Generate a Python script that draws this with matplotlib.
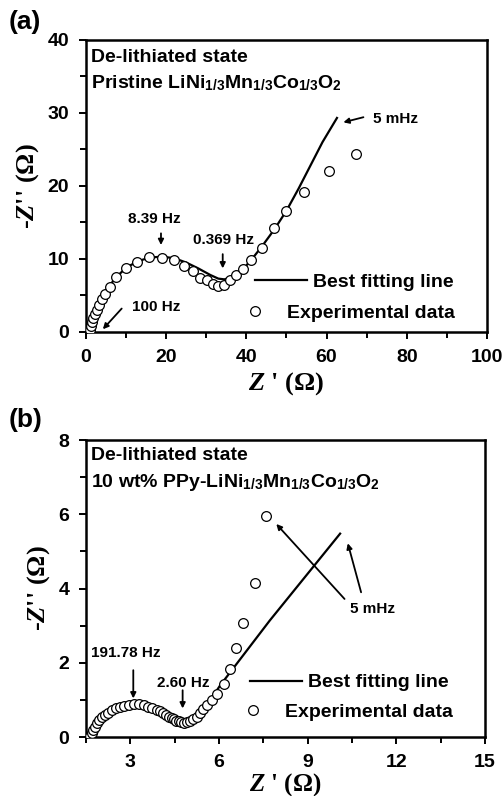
import numpy as np
import matplotlib
matplotlib.use("Agg")
import matplotlib.pyplot as plt

# ---- panel (a): pristine ----
a_exp_x = [1.0, 1.2, 1.45, 1.8, 2.2, 2.65, 3.2, 3.9, 4.8, 6.0, 7.6, 9.9, 12.8, 15.8,
           18.9, 21.9, 24.4, 26.8, 28.5, 30.2, 31.6, 33.0, 34.5, 35.9, 37.4, 39.1,
           41.1, 43.9, 47.0, 49.9, 54.4, 60.5, 67.3]
a_exp_y = [0.3, 0.8, 1.3, 1.85, 2.4, 3.0, 3.75, 4.5, 5.2, 6.2, 7.5, 8.7, 9.6, 10.25,
           10.1, 9.85, 9.0, 8.3, 7.45, 7.1, 6.6, 6.3, 6.45, 7.1, 7.8, 8.65,
           9.8, 11.45, 14.2, 16.6, 19.2, 22.1, 24.3]
a_fit_x = [1.0, 1.5, 2.2, 3.2, 4.8, 7.0, 10.0, 13.0, 16.0, 19.0, 22.0, 25.0, 28.0,
           31.0, 33.0, 34.5, 36.0, 38.0, 40.0, 42.0, 44.0, 46.0, 48.0, 50.0, 53.0,
           56.0, 59.0, 62.6]
a_fit_y = [0.0, 1.0, 2.3, 3.7, 5.3, 7.2, 8.8, 9.7, 10.2, 10.3, 10.1, 9.5, 8.7,
           7.8, 7.3, 7.2, 7.4, 8.1, 9.1, 10.4, 11.8, 13.3, 14.9, 16.6, 19.6,
           22.8, 26.0, 29.3]

# ---- panel (b): 10 wt% PPy coated ----
b_exp_x = [1.64, 1.69, 1.75, 1.80, 1.88, 1.95, 2.04, 2.14, 2.25, 2.37, 2.50, 2.65,
           2.79, 2.95, 3.12, 3.29, 3.46, 3.61, 3.75, 3.89, 4.00, 4.11, 4.22, 4.31,
           4.40, 4.48, 4.56, 4.64, 4.73, 4.82, 4.91, 5.01, 5.13, 5.24, 5.35, 5.46,
           5.60, 5.75, 5.92, 6.17, 6.39, 6.57, 6.80, 7.23, 7.60]
b_exp_y = [0.04, 0.10, 0.19, 0.28, 0.37, 0.46, 0.53, 0.60, 0.66, 0.72, 0.77, 0.81,
           0.84, 0.86, 0.88, 0.88, 0.85, 0.82, 0.78, 0.73, 0.69, 0.64, 0.59, 0.55,
           0.51, 0.48, 0.44, 0.42, 0.40, 0.39, 0.40, 0.43, 0.48, 0.55, 0.64, 0.75,
           0.86, 0.99, 1.16, 1.44, 1.84, 2.41, 3.07, 4.15, 5.96]
b_fit_x = [1.60, 1.70, 1.90, 2.20, 2.60, 3.00, 3.40, 3.80, 4.20, 4.50, 4.80, 5.00,
           5.20, 5.40, 5.60, 5.80, 6.03, 7.72, 10.1]
b_fit_y = [0.0, 0.15, 0.38, 0.62, 0.80, 0.87, 0.86, 0.77, 0.62, 0.50, 0.42, 0.42,
           0.52, 0.68, 0.88, 1.10, 1.38, 3.14, 5.48]

SANS = "Liberation Sans"
SERIF = "Liberation Serif"

plt.rcParams["font.family"] = [SANS, "DejaVu Sans"]
plt.rcParams["font.weight"] = "bold"
plt.rcParams["mathtext.fontset"] = "custom"
plt.rcParams["mathtext.it"] = "Liberation Serif:italic:bold"
plt.rcParams["mathtext.rm"] = "Liberation Serif:bold"
plt.rcParams["mathtext.sf"] = "Liberation Sans:bold"

FORMULA = r"LiNi$_{\mathsf{1/3}}$Mn$_{\mathsf{1/3}}$Co$_{\mathsf{1/3}}$O$_{\mathsf{2}}$"


def style_axes(ax, xlim, ylim, xmaj, xmin, ymaj, ymin, xpad, xsize):
    ax.set_xticks(np.arange(0, xlim[1] + 1e-9, xmaj))
    ax.set_xticks(np.arange(0, xlim[1] + 1e-9, xmin), minor=True)
    ax.set_yticks(np.arange(0, ylim[1] + 1e-9, ymaj))
    ax.set_yticks(np.arange(0, ylim[1] + 1e-9, ymin), minor=True)
    ax.set_xlim(*xlim)
    ax.set_ylim(*ylim)
    for s in ax.spines.values():
        s.set_linewidth(1.8)
    ax.tick_params(which="major", direction="out", length=5, width=1.4, pad=7,
                   labelsize=14, top=False, right=False)
    ax.tick_params(which="minor", direction="out", length=4, width=1.4,
                   top=False, right=False)
    for lab in ax.get_xticklabels() + ax.get_yticklabels():
        lab.set_fontweight("bold")
    ax.set_xlabel(r"$\mathit{Z}$ ' (Ω)", family=SERIF, fontsize=xsize,
                  fontweight="bold", labelpad=xpad)
    ax.set_ylabel(r"-$\mathit{Z}$'' (Ω)", family=SERIF, fontsize=19,
                  fontweight="bold", labelpad=5)


def add_legend(ax, fit_line, exp_pts, line_xy, mark_xy):
    leg1 = ax.legend([fit_line], ["Best fitting line"], loc="center left",
                     bbox_to_anchor=line_xy, frameon=False, borderpad=0,
                     borderaxespad=0, handlelength=2.7, handletextpad=0.3,
                     prop={"family": SANS, "weight": "bold", "size": 14})
    ax.add_artist(leg1)
    ax.legend([exp_pts], ["Experimental data"], loc="center left",
              bbox_to_anchor=mark_xy, frameon=False, borderpad=0,
              borderaxespad=0, handlelength=0.5, handletextpad=1.4,
              prop={"family": SANS, "weight": "bold", "size": 14})


def arrow(ax, text, xy, xytext, tx=None):
    ax.annotate("", xy=xy, xytext=xytext,
                arrowprops=dict(arrowstyle="-|>", color="k", lw=1.3,
                                mutation_scale=8, shrinkA=0, shrinkB=0))
    if tx is not None:
        ax.text(tx[0], tx[1], text, ha="center", va="center",
                fontsize=11, fontweight="bold")


fig = plt.figure(figsize=(5.03, 7.96), dpi=100)

# ---------------- (a) ----------------
ax = fig.add_axes([0.171, 0.583, 0.797, 0.367])
fit_a, = ax.plot(a_fit_x, a_fit_y, color="k", lw=1.6, zorder=2)
exp_a, = ax.plot(a_exp_x, a_exp_y, "o", ms=7, mfc="white", mec="k", mew=0.9,
                 zorder=3, linestyle="none")
style_axes(ax, (0, 100), (0, 40), 20, 10, 10, 5, xpad=3, xsize=19)
ax.text(0.012, 0.941, "De-lithiated state", transform=ax.transAxes,
        fontsize=14, fontweight="bold", va="center")
ax.text(0.012, 0.852, "Pristine " + FORMULA, transform=ax.transAxes,
        fontsize=14, fontweight="bold", va="center")
arrow(ax, "8.39 Hz", (18.7, 11.9), (18.7, 13.5), (17.0, 15.4))
arrow(ax, "0.369 Hz", (34.1, 8.7), (34.1, 10.65), (34.4, 12.65))
arrow(ax, "100 Hz", (4.2, 0.37), (8.9, 3.2), (17.6, 3.46))
arrow(ax, "5 mHz", (64.2, 28.7), (69.2, 29.4), (77.2, 29.2))
add_legend(ax, fit_a, exp_a, (0.421, 0.171), (0.409, 0.065))
fig.text(0.018, 0.972, "(a)", fontsize=19, fontweight="bold", va="center")

# ---------------- (b) ----------------
ax = fig.add_axes([0.171, 0.0741, 0.793, 0.373])
fit_b, = ax.plot(b_fit_x, b_fit_y, color="k", lw=1.6, zorder=2)
exp_b, = ax.plot(b_exp_x, b_exp_y, "o", ms=7, mfc="white", mec="k", mew=0.9,
                 zorder=3, linestyle="none")
style_axes(ax, (1.5, 15), (0, 8), 3, 1.5, 2, 1, xpad=0, xsize=18)
ax.text(0.012, 0.949, "De-lithiated state", transform=ax.transAxes,
        fontsize=14, fontweight="bold", va="center")
ax.text(0.012, 0.858, "10 wt% PPy-" + FORMULA, transform=ax.transAxes,
        fontsize=14, fontweight="bold", va="center")
arrow(ax, "191.78 Hz", (3.1, 1.04), (3.1, 1.8), (2.85, 2.26))
arrow(ax, "2.60 Hz", (4.77, 0.77), (4.77, 1.26), (4.79, 1.46))
arrow(ax, "5 mHz", (7.94, 5.74), (10.25, 3.72), (11.2, 3.45))
arrow(ax, "", (10.36, 5.22), (10.81, 3.9))
add_legend(ax, fit_b, exp_b, (0.411, 0.183), (0.406, 0.084))
fig.text(0.018, 0.472, "(b)", fontsize=19, fontweight="bold", va="center")

fig.savefig("out.png", dpi=100)
